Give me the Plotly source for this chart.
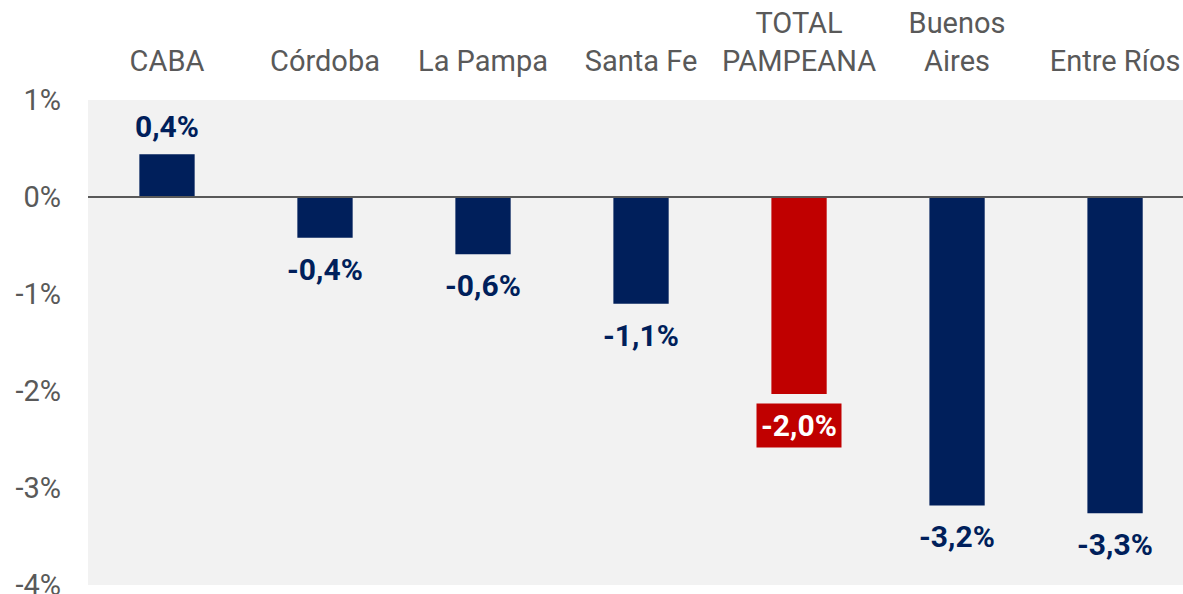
import plotly.graph_objects as go

categories = ["CABA", "Córdoba", "La Pampa", "Santa Fe", "TOTAL<br>PAMPEANA", "Buenos<br>Aires", "Entre Ríos"]
values = [0.44, -0.42, -0.59, -1.10, -2.03, -3.18, -3.26]
labels = ["0,4%", "-0,4%", "-0,6%", "-1,1%", "-2,0%", "-3,2%", "-3,3%"]
highlight = "TOTAL<br>PAMPEANA"
y_ticks = [1, 0, -1, -2, -3, -4]
y_ticktext = ["1%", "0%", "-1%", "-2%", "-3%", "-4%"]

NAVY = "#001F5B"
RED = "#C00000"
colors = [RED if c == highlight else NAVY for c in categories]

fig = go.Figure()
fig.add_trace(go.Bar(x=list(range(len(categories))), y=values, marker_color=colors,
                     marker_line_width=0, width=0.35, hoverinfo="skip"))

for i, (v, t, c) in enumerate(zip(values, labels, categories)):
    hl = c == highlight
    fig.add_annotation(
        x=i, y=v, text=f"<b>{t}</b>", showarrow=False,
        yanchor="bottom" if v >= 0 else "top",
        yshift=9 if v >= 0 else (-9 if hl else -13),
        font=dict(family="Roboto", size=30, color="white" if hl else NAVY),
        bgcolor=RED if hl else None, borderpad=4 if hl else 0,
    )

fig.add_shape(type="line", xref="paper", x0=0, x1=1, yref="y", y0=0, y1=0,
              line=dict(color="#595959", width=2))

fig.update_layout(
    width=1183, height=594,
    margin=dict(l=88, r=0, t=100, b=9, autoexpand=False),
    paper_bgcolor="white", plot_bgcolor="#F2F2F2",
    showlegend=False, bargap=0.65,
    xaxis=dict(side="top", tickvals=list(range(len(categories))), ticktext=categories,
               range=[-0.5, 6.43], showgrid=False, zeroline=False, showline=False,
               ticks="", ticklabelstandoff=22, automargin=False,
               tickfont=dict(family="Roboto", size=29, color="#595959")),
    yaxis=dict(range=[-4, 1], tickvals=y_ticks, ticktext=y_ticktext, showgrid=False,
               zeroline=False, showline=False, ticks="", ticklabelstandoff=26,
               automargin=False, ticklabeloverflow="allow",
               tickfont=dict(family="Roboto", size=29, color="#595959")),
)

fig.write_html("out.html", config={"displayModeBar": False},
               post_script="document.body.style.margin='0';document.body.style.overflow='hidden';")
